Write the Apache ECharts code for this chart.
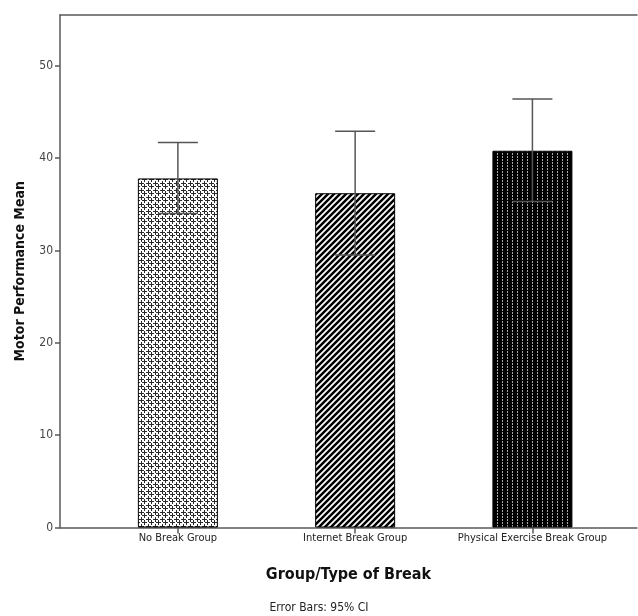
<!DOCTYPE html>
<html><head><meta charset="utf-8">
<script src="https://cdn.jsdelivr.net/npm/echarts@6/dist/echarts.min.js"></script>
<style>html,body{margin:0;padding:0;background:#fff}#c{width:638px;height:616px}</style>
</head><body><div id="c"></div>
<script>
const categories = ['No Break Group', 'Internet Break Group', 'Physical Exercise Break Group'];
const means = [37.8, 36.2, 40.8];
const ciLower = [34.0, 29.5, 35.3];
const ciUpper = [41.7, 42.9, 46.4];
const categoryPositions = [0, 1, 2];

function tile(w, h, draw) {
  const c = document.createElement('canvas');
  c.width = w; c.height = h;
  const ctx = c.getContext('2d');
  draw(ctx, w, h);
  return c;
}
// cross-hatch with plus signs
const patPlus = tile(7, 7, (ctx) => {
  ctx.fillStyle = '#fff'; ctx.fillRect(0, 0, 7, 7);
  ctx.fillStyle = '#2a2a2a';
  const plus = (x, y) => {
    for (let dx = -2; dx <= 2; dx++) ctx.fillRect((x + dx + 7) % 7, y, 1, 1);
    for (let dy = -2; dy <= 2; dy++) ctx.fillRect(x, (y + dy + 7) % 7, 1, 1);
  };
  plus(1, 1); plus(4, 4);
});
// diagonal stripes "/"
const patStripe = tile(6, 6, (ctx) => {
  ctx.fillStyle = '#fff'; ctx.fillRect(0, 0, 6, 6);
  ctx.strokeStyle = '#000'; ctx.lineWidth = 2.5;
  ctx.beginPath();
  ctx.moveTo(-3, 3); ctx.lineTo(3, -3);
  ctx.moveTo(0, 6); ctx.lineTo(6, 0);
  ctx.moveTo(3, 9); ctx.lineTo(9, 3);
  ctx.stroke();
});
// black with vertical dashed grey lines
const patDash = tile(5, 3, (ctx) => {
  ctx.fillStyle = '#000'; ctx.fillRect(0, 0, 5, 3);
  ctx.fillStyle = '#a8a8a8';
  ctx.fillRect(2, 0, 1, 2);
});
const patterns = [patPlus, patStripe, patDash];

const axisColor = '#5a5a5a';
const font = 'DejaVu Sans Condensed';
const xMin = -0.665, xMax = 2.59;

const chart = echarts.init(document.getElementById('c'), null, { renderer: 'canvas' });
chart.setOption({
  animation: false,
  backgroundColor: '#fff',
  grid: { left: 60, right: 1, top: 15, bottom: 88.5 },
  xAxis: [{
    type: 'value', min: xMin, max: xMax,
    axisLine: { show: true, onZero: false, lineStyle: { color: axisColor, width: 1.5 } },
    axisTick: { show: true, customValues: categoryPositions, length: 6, lineStyle: { color: axisColor, width: 1.5 } },
    axisLabel: { show: true, customValues: categoryPositions, formatter: (v) => categories[Math.round(v)] || '',
      fontFamily: font, fontSize: 11, color: '#222', margin: 5 },
    splitLine: { show: false },
    name: 'Group/Type of Break', nameLocation: 'middle', nameGap: 39,
    nameTextStyle: { fontFamily: font, fontWeight: 'bold', fontSize: 16, color: '#111' }
  }, {
    type: 'value', min: xMin, max: xMax, position: 'top',
    axisLine: { show: true, onZero: false, lineStyle: { color: axisColor, width: 1.5 } },
    axisTick: { show: false }, axisLabel: { show: false }, splitLine: { show: false }
  }],
  yAxis: {
    type: 'value', min: 0, max: 55.5, interval: 10,
    axisLine: { show: true, onZero: false, lineStyle: { color: axisColor, width: 1.5 } },
    axisTick: { show: true, length: 5, lineStyle: { color: axisColor, width: 1.5 } },
    axisLabel: { fontFamily: font, fontSize: 12, color: '#444', margin: 7, showMaxLabel: false,
      formatter: (v) => (v % 10 === 0 ? String(v) : '') },
    splitLine: { show: false },
    name: 'Motor Performance Mean', nameLocation: 'middle', nameGap: 33,
    nameTextStyle: { fontFamily: font, fontWeight: 'bold', fontSize: 14, color: '#111' }
  },
  graphic: [{
    type: 'text', left: 'center', top: 602,
    style: { text: 'Error Bars: 95% CI', font: '12px "DejaVu Sans Condensed"', fill: '#222', x: -11 }
  }],
  series: [{
    type: 'bar', barWidth: 80,
    data: means.map((m, i) => ({
      value: [categoryPositions[i], m],
      itemStyle: { color: { image: patterns[i], repeat: 'repeat' }, borderColor: '#000', borderWidth: 1 }
    }))
  }, {
    type: 'custom', z: 5,
    data: means.map((m, i) => [categoryPositions[i], ciLower[i], ciUpper[i]]),
    renderItem: (params, api) => {
      const x = api.value(0);
      const lo = api.coord([x, api.value(1)]);
      const hi = api.coord([x, api.value(2)]);
      const half = 20;
      const st = { stroke: '#555', lineWidth: 1.5 };
      return { type: 'group', children: [
        { type: 'line', shape: { x1: hi[0], y1: hi[1], x2: lo[0], y2: lo[1] }, style: st },
        { type: 'line', shape: { x1: hi[0] - half, y1: hi[1], x2: hi[0] + half, y2: hi[1] }, style: st },
        { type: 'line', shape: { x1: lo[0] - half, y1: lo[1], x2: lo[0] + half, y2: lo[1] }, style: st }
      ] };
    }
  }]
});
</script></body></html>
